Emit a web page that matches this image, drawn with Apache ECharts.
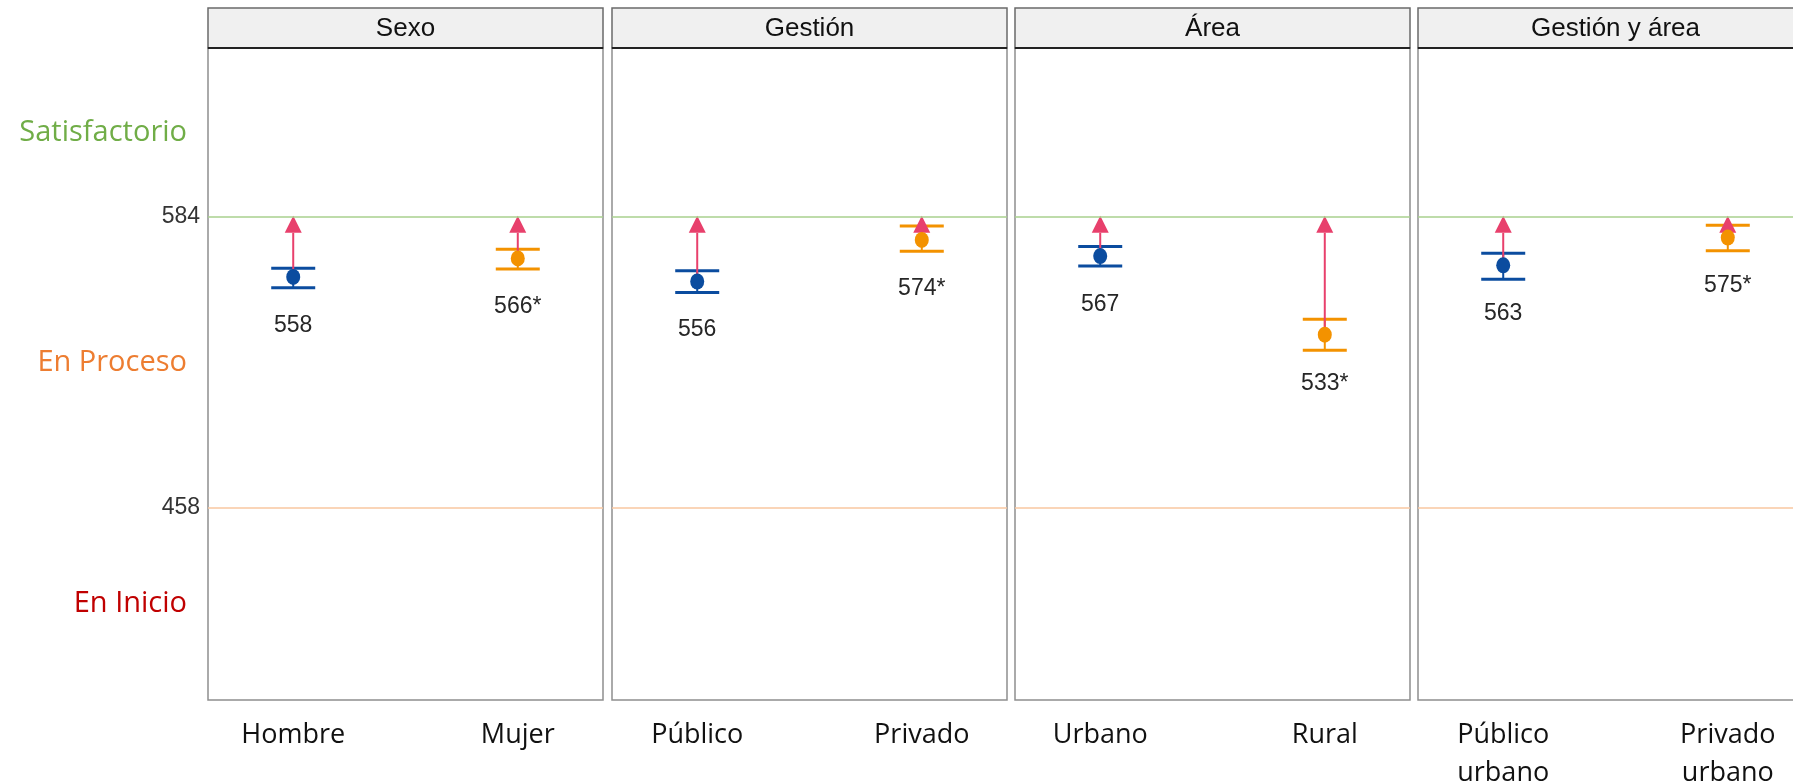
<!DOCTYPE html>
<html><head><meta charset="utf-8">
<script src="https://cdn.jsdelivr.net/npm/echarts@6/dist/echarts.min.js"></script>
<style>html,body{margin:0;padding:0;background:#fff;overflow:hidden}#c{width:1793px;height:783px}</style>
</head><body><div id="c"></div>
<script>
// ---- data ----
const panels = ['Sexo', 'Gestión', 'Área', 'Gestión y área'];
const categories = [['Hombre', 'Mujer'], ['Público', 'Privado'], ['Urbano', 'Rural'], ['Público\nurbano', 'Privado\nurbano']];
const means = [[558, 566], [556, 574], [567, 533], [563, 575]];
const ciLow = [[553.3, 561.4], [551.3, 569.1], [562.7, 526.3], [557.0, 569.3]];
const ciHigh = [[561.7, 570.0], [560.7, 580.0], [571.1, 539.7], [568.2, 580.3]];
const valueLabels = [['558', '566*'], ['556', '574*'], ['567', '533*'], ['563', '575*']];
const thresholdTicks = [458, 584];
const levelNames = ['En Inicio', 'En Proceso', 'Satisfactorio'];
const levelMids = [416.5, 521, 620.5];
const goal = 584;

// ---- style / layout ----
const yMin = 375, yMax = 657;
const gridLefts = [208, 612, 1015, 1418];
const gridW = 395, gridTop = 48, gridH = 652;
const pointColors = ['#0b4c9f', '#f39200'];
const arrowColor = '#e8406c';
const levelColors = ['#c00000', '#ed7d31', '#70ad47'];
const numFont = 'Liberation Sans, Arial, sans-serif';
const txtFont = 'Open Sans, sans-serif';

const grid = [], xAxis = [], yAxis = [], series = [], graphic = [];

panels.forEach((p, i) => {
  grid.push({left: gridLefts[i], top: gridTop, width: gridW, height: gridH, outerBoundsMode: 'none',
    show: true, borderColor: '#8f8f8f', borderWidth: 1.5, backgroundColor: '#fff'});
  xAxis.push({type: 'value', gridIndex: i, min: 0.6205, max: 2.3795,
    axisLine: {show: false}, axisTick: {show: false}, splitLine: {show: false},
    axisLabel: {customValues: [1, 2], formatter: v => categories[i][Math.round(v) - 1],
      fontFamily: txtFont, fontSize: 27, color: '#111', lineHeight: 38, margin: 16}});
  yAxis.push({type: 'value', gridIndex: i, min: yMin, max: yMax,
    axisLine: {show: false}, axisTick: {show: false}, splitLine: {show: false},
    axisLabel: i === 0 ? {customValues: thresholdTicks, fontFamily: numFont, fontSize: 23, color: '#333', margin: 8} : {show: false}});

  const ebData = [0, 1].map(k => [k + 1, ciLow[i][k], ciHigh[i][k], k]);
  series.push({type: 'custom', xAxisIndex: i, yAxisIndex: i, z: 2, silent: true,
    data: ebData,
    renderItem: (params, api) => {
      const x = api.value(0), lo = api.value(1), hi = api.value(2), c = pointColors[api.value(3)];
      const a = api.coord([x, lo]), b = api.coord([x, hi]);
      const hw = 22;
      return {type: 'group', children: [
        {type: 'line', shape: {x1: a[0], y1: a[1], x2: b[0], y2: b[1]}, style: {stroke: c, lineWidth: 2}},
        {type: 'line', shape: {x1: a[0] - hw, y1: a[1], x2: a[0] + hw, y2: a[1]}, style: {stroke: c, lineWidth: 3}},
        {type: 'line', shape: {x1: b[0] - hw, y1: b[1], x2: b[0] + hw, y2: b[1]}, style: {stroke: c, lineWidth: 3}}
      ]};
    }});

  const arData = [0, 1].map(k => [k + 1, means[i][k], goal]);
  series.push({type: 'custom', xAxisIndex: i, yAxisIndex: i, z: 3, silent: true,
    data: arData,
    renderItem: (params, api) => {
      const x = api.value(0);
      const a = api.coord([x, api.value(1)]), t = api.coord([x, api.value(2)]);
      const th = 16, tw = 8.5;
      return {type: 'group', children: [
        {type: 'line', shape: {x1: a[0], y1: a[1], x2: t[0], y2: t[1] + th}, style: {stroke: arrowColor, lineWidth: 2}},
        {type: 'polygon', shape: {points: [[t[0], t[1] - 1], [t[0] - tw, t[1] + th], [t[0] + tw, t[1] + th]]}, style: {fill: arrowColor}}
      ]};
    }});

  series.push({type: 'scatter', xAxisIndex: i, yAxisIndex: i, z: 4, silent: true,
    symbol: 'circle', symbolSize: [14, 16],
    data: [0, 1].map(k => ({value: [k + 1, means[i][k]], name: valueLabels[i][k], itemStyle: {color: pointColors[k], opacity: 1}})),
    label: {show: true, position: 'bottom', distance: 29, formatter: '{b}', fontFamily: numFont, fontSize: 23, color: '#262626'},
    markLine: {silent: true, symbol: 'none', label: {show: false}, animation: false,
      data: [{yAxis: 584, lineStyle: {color: '#a9d18e', width: 1.5, type: 'solid'}},
             {yAxis: 458, lineStyle: {color: '#f8c7a0', width: 1.5, type: 'solid'}}]}});

  graphic.push({type: 'rect', shape: {x: gridLefts[i], y: 8, width: gridW, height: 40},
    style: {fill: '#f0f0f0', stroke: '#6a6a6a', lineWidth: 1.5}, z: 10});
  graphic.push({type: 'line', shape: {x1: gridLefts[i], y1: 48, x2: gridLefts[i] + gridW, y2: 48},
    style: {stroke: '#222', lineWidth: 2}, z: 11});
  graphic.push({type: 'text', x: gridLefts[i] + gridW / 2, y: 28.5, z: 12,
    style: {text: p, fontFamily: numFont, fontSize: 26, fill: '#111', align: 'center', verticalAlign: 'middle'}});
});

// level labels on the first panel
yAxis.push({type: 'value', gridIndex: 0, position: 'left', min: yMin, max: yMax,
  axisLine: {show: false}, axisTick: {show: false}, splitLine: {show: false},
  axisLabel: {customValues: levelMids, margin: 21,
    formatter: v => { const k = levelMids.indexOf(v); return '{l' + k + '|' + levelNames[k] + '}'; },
    rich: {
      l0: {fontFamily: txtFont, fontSize: 29, color: levelColors[0]},
      l1: {fontFamily: txtFont, fontSize: 29, color: levelColors[1]},
      l2: {fontFamily: txtFont, fontSize: 29, color: levelColors[2]}
    }}});

const chart = echarts.init(document.getElementById('c'), null, {renderer: 'canvas'});
chart.setOption({animation: false, backgroundColor: '#fff', grid, xAxis, yAxis, series, graphic});
</script></body></html>
